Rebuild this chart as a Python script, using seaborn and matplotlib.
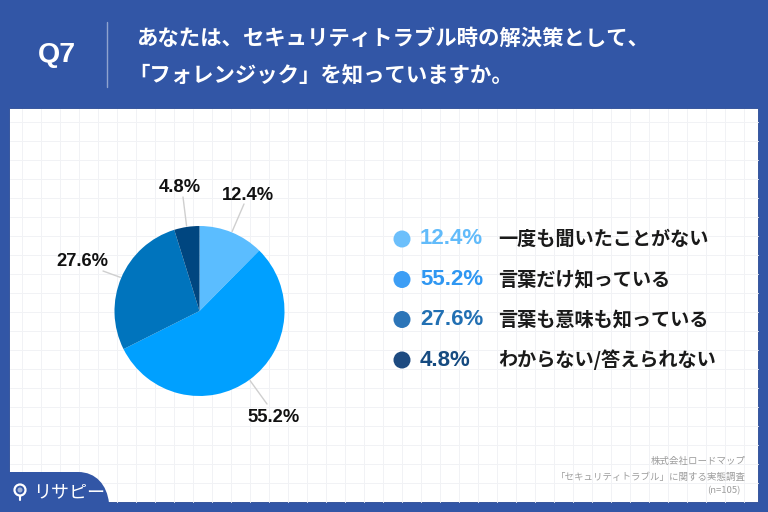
import matplotlib
matplotlib.use("Agg")
import matplotlib.pyplot as plt
from matplotlib.patches import Rectangle, Circle, PathPatch
from matplotlib.path import Path
import numpy as np
import seaborn as sns

# ---- data ----
categories = ["一度も聞いたことがない", "言葉だけ知っている", "言葉も意味も知っている", "わからない/答えられない"]
values = [12.4, 55.2, 27.6, 4.8]
value_labels = ["12.4%", "55.2%", "27.6%", "4.8%"]
title_lines = ["あなたは、セキュリティトラブル時の解決策として、", "「フォレンジック」を知っていますか。"]
question = "Q7"
source_lines = ["株式会社ロードマップ", "「セキュリティトラブル」に関する実態調査", "(n=105)"]
brand = "リサピー"

# ---- style ----
sns.set_theme(style="white")
MIX = ["Liberation Sans", "Noto Sans CJK JP"]
CJK = ["Noto Sans CJK JP", "DejaVu Sans"]
plt.rcParams["font.family"] = MIX

BG = "#3256A6"
slice_colors = sns.color_palette(["#5BBDFF", "#00A0FF", "#0074BD", "#004680"])
key_colors = sns.color_palette(["#6CBFFB", "#3D9EF5", "#2C75B8", "#1D4A80"])
text_colors = ["#62BBFA", "#2F97F2", "#2270B3", "#154A80"]
label_centers = [(248, 195), (274, 417), (82, 262), (180, 187)]
leader_ends = [(244, 204), (267, 404), (103, 271), (183, 197)]
W, H = 768, 512
CX, CY, R = 199.5, 311, 85

fig = plt.figure(figsize=(W / 100, H / 100), dpi=100, facecolor=BG)
bg = fig.add_axes([0, 0, 1, 1])
bg.set_xlim(0, W)
bg.set_ylim(H, 0)
bg.axis("off")

# panel with faint grid
bg.add_patch(Rectangle((9, 108), 749, 394, fc="white", ec="#2A4A94", lw=0.6, zorder=1))
for x in np.arange(22, 758, 19):
    bg.plot([x, x], [108.5, 501.5], color="#F1F2F5", lw=0.7, zorder=1.2)
for y in np.arange(122, 502, 19):
    bg.plot([9.5, 757.5], [y, y], color="#F1F2F5", lw=0.7, zorder=1.2)

# header
bg.text(57, 55, question, color="white", fontsize=20.5, fontweight="bold", ha="center", va="center")
bg.plot([107, 107], [22, 87], color="#8FA3CF", lw=1)
bg.text(136, 38, title_lines[0], color="white", fontsize=15.4, fontweight="bold",
        family=CJK, ha="left", va="center")
bg.text(128, 75, title_lines[1], color="white", fontsize=15.4, fontweight="bold",
        family=CJK, ha="left", va="center")

# logo tab
codes = [Path.MOVETO, Path.LINETO, Path.CURVE4, Path.CURVE4, Path.CURVE4, Path.LINETO, Path.CLOSEPOLY]
verts = [(9, 472), (78, 472), (96, 472), (107, 485), (109, 503), (9, 503), (9, 472)]
bg.add_patch(PathPatch(Path(verts, codes), fc=BG, ec="none", zorder=2))
bg.add_patch(Circle((20, 490), 5.5, fc="none", ec="white", lw=1.6, zorder=3))
bg.add_patch(Circle((20, 490), 2.5, fc="#9FB0D2", ec="none", zorder=3))
bg.plot([20, 20], [495.5, 500], color="white", lw=1.5, zorder=3)
bg.text(33, 492, brand, color="white", fontsize=13, family=CJK, ha="left", va="center", zorder=3)

# legend
for y, cat, lab, kc, tc in zip([239, 279.5, 319.5, 360], categories, value_labels, key_colors, text_colors):
    bg.add_patch(Circle((402, y), 8.5, fc=kc, ec="none", zorder=3))
    bg.text(420, y, lab, color=tc, fontsize=16, fontweight="bold", ha="left", va="center", zorder=3)
    bg.text(498, y, cat, color="#1A1A1A", fontsize=13.8, fontweight="bold", family=CJK,
            ha="left", va="center", zorder=3)

# source
for y, s, xr in zip([461, 477, 491], source_lines, [746, 746, 741]):
    bg.text(xr, y, s, color="#9C9C9C", fontsize=6.8, family=CJK, ha="right", va="center", zorder=3)

# leaders and pie labels
angles = 90 - (np.cumsum(values) - np.array(values) / 2) / 100 * 360
for ang, lab, (tx, ty), (ex, ey) in zip(angles, value_labels, label_centers, leader_ends):
    sx = CX + (R + 1) * np.cos(np.deg2rad(ang))
    sy = CY - (R + 1) * np.sin(np.deg2rad(ang))
    bg.plot([sx, ex], [sy, ey], color="#CFCFCF", lw=1, zorder=3)
    bg.text(tx, ty, lab, color="#111111", fontsize=13.2, fontweight="bold", ha="center", va="center", zorder=3)

# pie
ax = fig.add_axes([(CX - R) / W, 1 - (CY + R) / H, 2 * R / W, 2 * R / H])
ax.pie(values, colors=slice_colors, startangle=90, counterclock=False, radius=1,
       wedgeprops={"linewidth": 0})
ax.set_xlim(-1, 1)
ax.set_ylim(-1, 1)
ax.patch.set_alpha(0)

fig.savefig("out.png", dpi=100, facecolor=BG)
